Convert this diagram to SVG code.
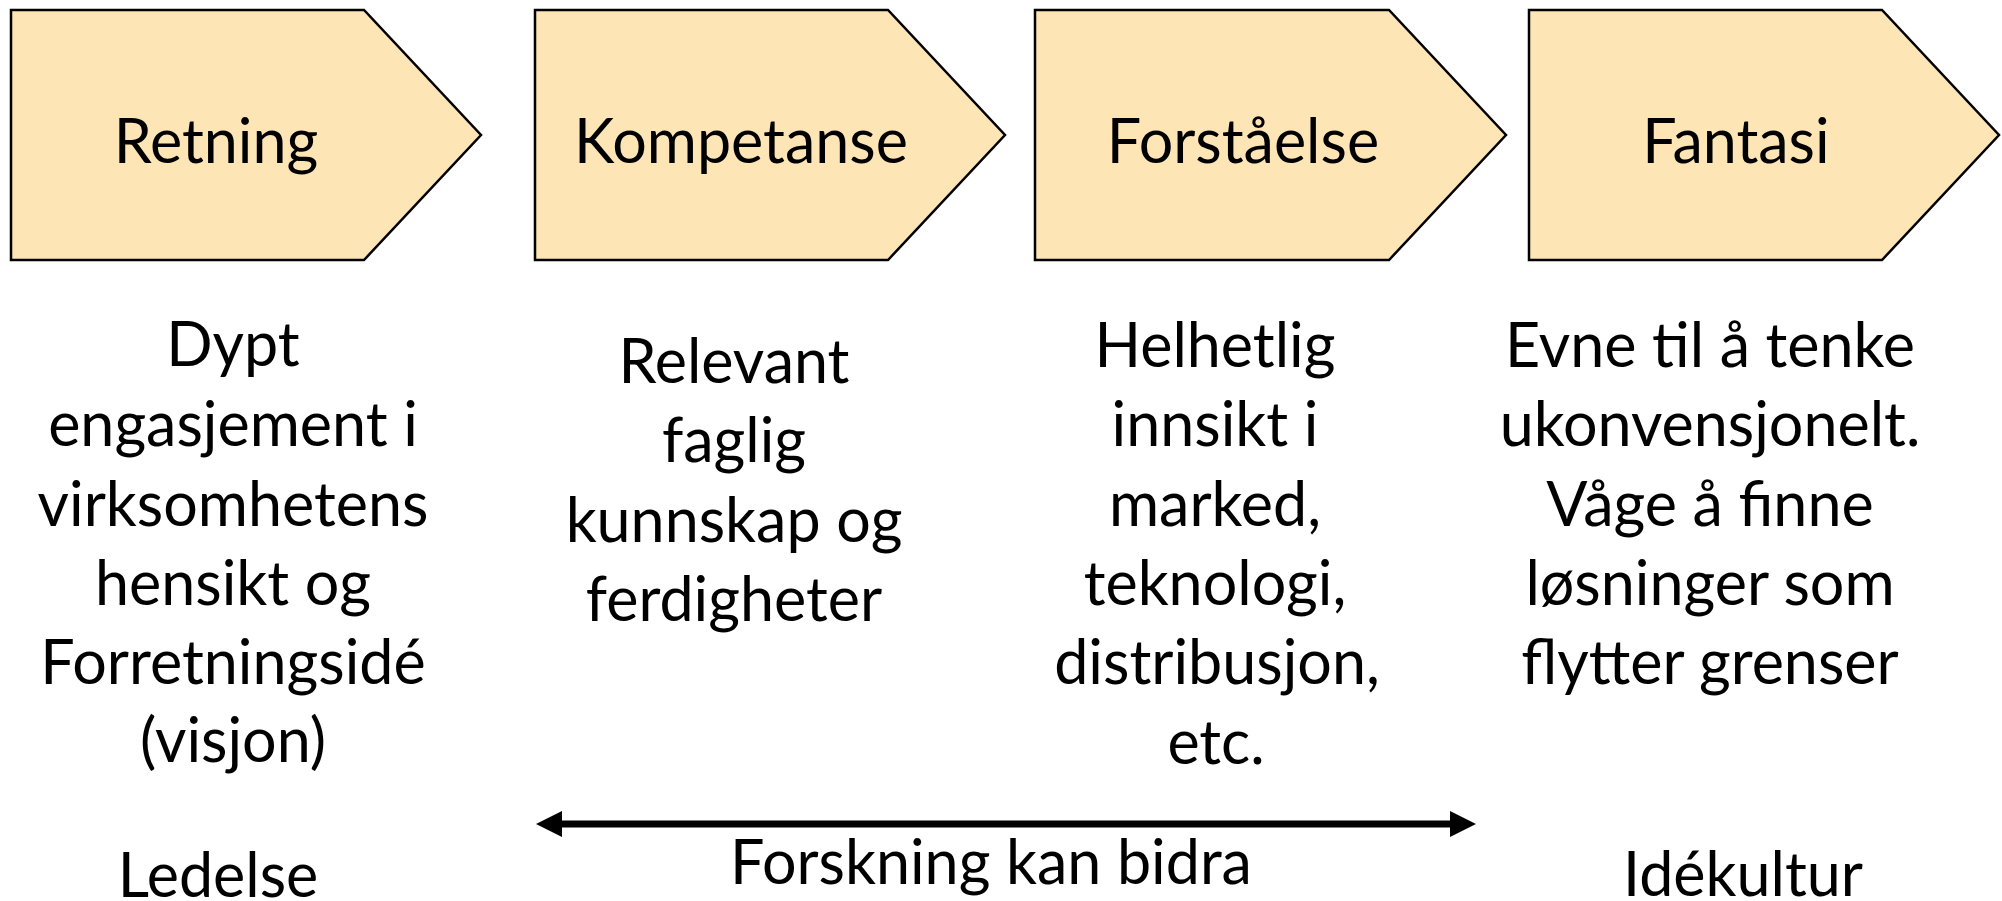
<svg xmlns="http://www.w3.org/2000/svg" width="2002" height="901" viewBox="0 0 2002 901">
<defs>
<style>
.box{fill:#FDE5B5;stroke:#000;stroke-width:2.5;stroke-linejoin:miter}
.t{font-family:Lato,"Open Sans","Liberation Sans",sans-serif;font-size:61px;fill:#000;text-anchor:middle}
.conn{stroke:#000;stroke-width:7;fill:none}
</style>
<marker id="ah" viewBox="0 0 26 26" refX="2" refY="13" markerWidth="26" markerHeight="26" markerUnits="userSpaceOnUse" orient="auto-start-reverse">
<path d="M0,0 L26,13 L0,26 z" fill="#000"/>
</marker>
</defs>
<rect width="2002" height="901" fill="#fff"/>
<g id="node-retning">
<polygon class="box" points="11,10 364,10 481,135 364,260 11,260"/>
<text class="t" x="216" y="163">Retning</text>
</g>
<g id="node-kompetanse">
<polygon class="box" points="535,10 888,10 1005,135 888,260 535,260"/>
<text class="t" x="741" y="163">Kompetanse</text>
</g>
<g id="node-forstaelse">
<polygon class="box" points="1035,10 1389,10 1506,135 1389,260 1035,260"/>
<text class="t" x="1243" y="163">Forståelse</text>
</g>
<g id="node-fantasi">
<polygon class="box" points="1529,10 1882,10 1999,135 1882,260 1529,260"/>
<text class="t" x="1736" y="163">Fantasi</text>
</g>
<g id="desc-retning">
<text class="t" x="233" y="366">Dypt</text>
<text class="t" x="233" y="446">engasjement i</text>
<text class="t" x="233" y="526">virksomhetens</text>
<text class="t" x="233" y="605">hensikt og</text>
<text class="t" x="233" y="684">Forretningsidé</text>
<text class="t" x="233" y="762">(visjon)</text>
</g>
<g id="desc-kompetanse">
<text class="t" x="734" y="383">Relevant</text>
<text class="t" x="734" y="462">faglig</text>
<text class="t" x="734" y="542">kunnskap og</text>
<text class="t" x="734" y="621">ferdigheter</text>
</g>
<g id="desc-forstaelse">
<text class="t" x="1215" y="367">Helhetlig</text>
<text class="t" x="1215" y="446">innsikt i</text>
<text class="t" x="1215" y="526">marked,</text>
<text class="t" x="1215" y="605">teknologi,</text>
<text class="t" x="1217" y="684">distribusjon,</text>
<text class="t" x="1216" y="764">etc.</text>
</g>
<g id="desc-fantasi">
<text class="t" x="1710" y="367">Evne til å tenke</text>
<text class="t" x="1710" y="446">ukonvensjonelt.</text>
<text class="t" x="1710" y="526">Våge å finne</text>
<text class="t" x="1710" y="605">løsninger som</text>
<text class="t" x="1710" y="684">flytter grenser</text>
</g>
<g id="connectors">
<line class="conn" x1="560" y1="824" x2="1452" y2="824" marker-start="url(#ah)" marker-end="url(#ah)"/>
</g>
<g id="label-forskning">
<text class="t" x="991" y="884">Forskning kan bidra</text>
</g>
<g id="label-ledelse">
<text class="t" x="218" y="897">Ledelse</text>
</g>
<g id="label-idekultur">
<text class="t" x="1743" y="896">Idékultur</text>
</g>
</svg>
